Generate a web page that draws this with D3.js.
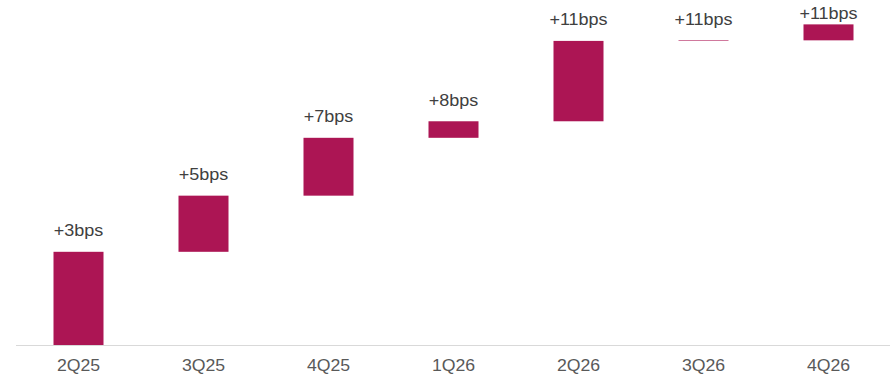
<!DOCTYPE html>
<html>
<head>
<meta charset="utf-8">
<script src="https://cdn.jsdelivr.net/npm/d3@7"></script>
<style>
  html, body { margin: 0; padding: 0; background: #ffffff; }
  svg { display: block; }
  text { font-family: "Liberation Sans", Arial, sans-serif; }
</style>
</head>
<body>
<svg id="chart" width="890" height="378"></svg>
<script>
// Data
const categories = ["2Q25", "3Q25", "4Q25", "1Q26", "2Q26", "3Q26", "4Q26"];
const deltas = [3.27, 1.97, 2.03, 0.58, 2.82, 0.02, 0.56];
const valueLabels = ["+3bps", "+5bps", "+7bps", "+8bps", "+11bps", "+11bps", "+11bps"];

const W = 890, H = 378;
const baseY = 345.5;
const svg = d3.select("#chart");

const x = d3.scaleBand().domain(categories).range([16, 891]).paddingInner(0.6).paddingOuter(0.3);
const y = d3.scaleLinear().domain([0, 12]).range([345, 3]);

let cum = 0;
const rows = categories.map((c, i) => {
  const start = cum;
  cum += deltas[i];
  return { cat: c, start, end: cum, label: valueLabels[i] };
});

// Axis line
svg.append("line")
  .attr("x1", 16).attr("x2", W)
  .attr("y1", baseY).attr("y2", baseY)
  .attr("stroke", "#d9d9d9").attr("stroke-width", 1);

// Bars
svg.append("g").selectAll("rect").data(rows).enter().append("rect")
  .attr("x", d => x(d.cat))
  .attr("width", x.bandwidth())
  .attr("y", d => y(d.end))
  .attr("height", d => y(d.start) - y(d.end))
  .attr("fill", "#ac1554");

// Value labels
svg.append("g").selectAll("text").data(rows).enter().append("text")
  .attr("transform", d => {
    const cx = x(d.cat) + x.bandwidth() / 2;
    const ty = Math.max(y(d.end) - 15.5, 19);
    return `translate(${cx},${ty}) scale(1.06,1)`;
  })
  .attr("text-anchor", "middle")
  .attr("font-size", 17)
  .attr("fill", "#404040")
  .text(d => d.label);

// X axis labels
const axis = svg.append("g")
  .attr("transform", `translate(0,${baseY})`)
  .call(d3.axisBottom(x).tickSize(0).tickPadding(13));
axis.select(".domain").remove();
axis.selectAll("text")
  .attr("font-family", "Liberation Sans, Arial, sans-serif")
  .attr("font-size", 17)
  .attr("fill", "#595959")
  .attr("transform", "scale(1.04,1)");
</script>
</body>
</html>
